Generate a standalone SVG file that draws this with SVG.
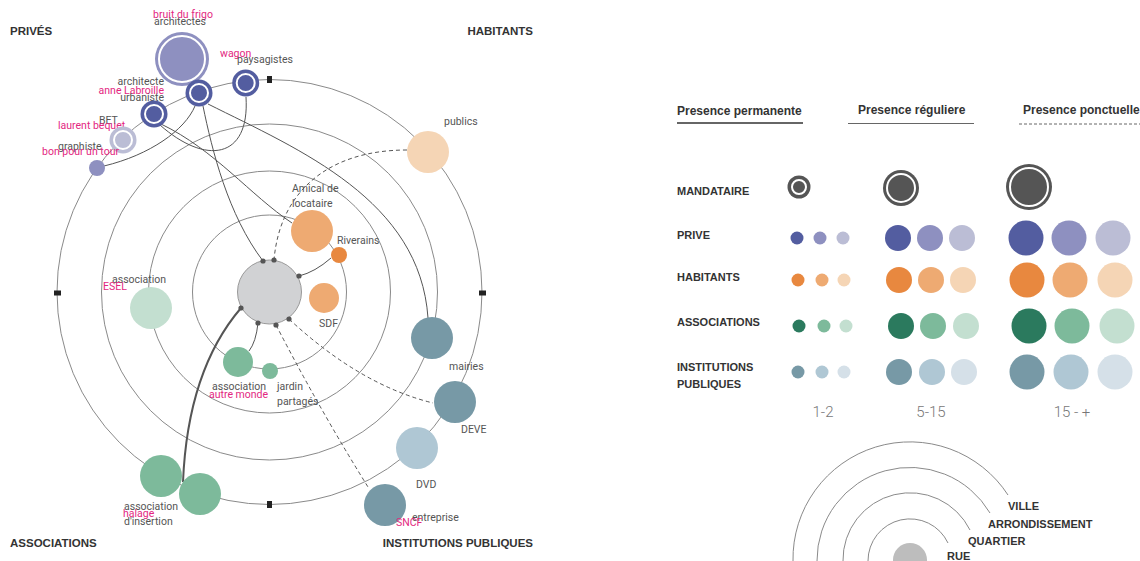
<svg xmlns="http://www.w3.org/2000/svg" width="1140" height="561" viewBox="0 0 1140 561">
<style>
.ring{fill:none;stroke:#8a8a8a;stroke-width:1}
.lbl{font-family:Roboto,"Liberation Sans",sans-serif;font-size:10.5px;fill:#555}
.mag{font-family:Roboto,"Liberation Sans",sans-serif;font-size:10.5px;fill:#e3277f}
.cat{font-family:"Liberation Sans",Arial,sans-serif;font-size:11.5px;font-weight:bold;fill:#333}
.hdr{font-family:"Liberation Sans",Arial,sans-serif;font-size:12px;font-weight:bold;fill:#333}
.row{font-family:"Liberation Sans",Arial,sans-serif;font-size:11px;font-weight:bold;fill:#333}
.num{font-family:Roboto,"Liberation Sans",sans-serif;font-size:15px;font-weight:300;fill:#777}
.con{fill:none;stroke:#555;stroke-width:1}
.dash{fill:none;stroke:#555;stroke-width:1;stroke-dasharray:4 3}
.wring{fill:none;stroke:#fff;stroke-width:2}
.dot{fill:#555}
.mk{fill:#222}
.p1{fill:#535da0}.p2{fill:#8e90c0}.p3{fill:#bbbdd5}
.h1{fill:#e8883f}.h2{fill:#eeaa72}.h3{fill:#f5d5b5}
.a1{fill:#2b7a5e}.a2{fill:#7dba9b}.a3{fill:#c3dfd0}
.i1{fill:#7799a6}.i2{fill:#afc7d4}.i3{fill:#d5e0e8}
.mand{fill:#555}
</style>
<rect width="1140" height="561" fill="#fff"/>

<g id="rings">
<circle class="ring" cx="269.5" cy="292" r="77"/>
<circle class="ring" cx="269.5" cy="292" r="121"/>
<circle class="ring" cx="269.5" cy="292" r="168"/>
<circle class="ring" cx="269.5" cy="292" r="212.5"/>
<rect class="mk" x="267" y="76" width="5" height="7"/>
<rect class="mk" x="267" y="501" width="5" height="7"/>
<rect class="mk" x="54" y="290.5" width="7" height="5"/>
<rect class="mk" x="479" y="290.5" width="7" height="5"/>
</g>

<text class="cat" x="10" y="35">PRIVÉS</text>
<text class="cat" x="533" y="35" text-anchor="end">HABITANTS</text>
<text class="cat" x="10" y="547">ASSOCIATIONS</text>
<text class="cat" x="533" y="547" text-anchor="end">INSTITUTIONS PUBLIQUES</text>

<g id="connectors">
<path class="con" d="M203,106 C212,150 228,215 263,261"/>
<path class="con" d="M161,124 C215,150 250,195 292,223"/>
<path class="con" d="M160,125 C205,165 250,160 246,97"/>
<path class="con" d="M104,166 C150,155 185,130 195,106"/>
<path class="con" d="M208,104 C300,150 420,200 428,318"/>
<path class="con" d="M331,258 Q315,272 299,276"/>
<path class="con" d="M258,323 Q256,342 249,351"/>
<path d="M241,308 C205,350 186,410 183,482" fill="none" stroke="#555" stroke-width="2"/>
<path class="dash" d="M407,150 C330,150 280,190 274,260"/>
<path class="dash" d="M289,319 Q360,385 433,403"/>
<path class="dash" d="M276,325 Q320,410 368,487"/>
</g>

<g id="n-architectes"><circle class="p2" cx="182" cy="59" r="27"/><circle class="wring" cx="182" cy="59" r="23"/>
<text class="mag" x="183" y="18" text-anchor="middle">bruit du frigo</text><text class="lbl" x="180" y="25" text-anchor="middle">architectes</text></g>
<g id="n-paysagistes"><circle class="p1" cx="245.7" cy="83" r="13.5"/><circle class="wring" cx="245.7" cy="83" r="9"/>
<text class="mag" x="220" y="57">wagon</text><text class="lbl" x="237" y="63">paysagistes</text></g>
<g id="n-urbaniste"><circle class="p1" cx="199" cy="93" r="13.5"/><circle class="wring" cx="199" cy="93" r="9"/>
<text class="lbl" x="164" y="85" text-anchor="end">architecte</text><text class="mag" x="164" y="94" text-anchor="end">anne Labroille</text><text class="lbl" x="164" y="101" text-anchor="end">urbaniste</text></g>
<g id="n-bet"><circle class="p1" cx="154" cy="114" r="13.5"/><circle class="wring" cx="154" cy="114" r="9"/>
<text class="lbl" x="99" y="124">BET</text><text class="mag" x="58" y="129">laurent bequet</text></g>
<g id="n-graphiste"><circle class="p3" cx="123" cy="140" r="13.5"/><circle class="wring" cx="123" cy="140" r="9"/></g>
<g id="n-bonpour"><circle class="p2" cx="97" cy="168" r="8"/>
<text class="lbl" x="58" y="150">graphiste</text><text class="mag" x="42" y="155">bon pour un tour</text></g>

<g id="n-publics"><circle class="h3" cx="428" cy="152" r="21"/><text class="lbl" x="444" y="125">publics</text></g>
<g id="n-amical"><circle class="h2" cx="312" cy="231" r="21"/><text class="lbl" x="292" y="192">Amical de</text><text class="lbl" x="292" y="207">locataire</text></g>
<g id="n-riverains"><circle class="h1" cx="339" cy="255" r="8"/><text class="lbl" x="337" y="244">Riverains</text></g>
<g id="n-sdf"><circle class="h2" cx="324" cy="298" r="15"/><text class="lbl" x="319" y="327">SDF</text></g>

<g id="n-center"><circle cx="269.5" cy="292" r="32" fill="#d1d2d4" stroke="#999" stroke-width="1"/>
<circle class="dot" cx="263" cy="261" r="2.6"/><circle class="dot" cx="274" cy="260" r="2.6"/><circle class="dot" cx="299" cy="276" r="2.6"/>
<circle class="dot" cx="241" cy="308" r="2.6"/><circle class="dot" cx="258" cy="323" r="2.6"/><circle class="dot" cx="276" cy="325" r="2.6"/><circle class="dot" cx="289" cy="319" r="2.6"/></g>

<g id="n-esel"><circle class="a3" cx="151" cy="308" r="21"/><text class="lbl" x="112" y="283">association</text><text class="mag" x="103" y="290">ESEL</text></g>
<g id="n-autremonde"><circle class="a2" cx="238" cy="362" r="15"/><text class="lbl" x="212" y="390">association</text><text class="mag" x="209" y="398">autre monde</text></g>
<g id="n-jardin"><circle class="a2" cx="270" cy="371" r="8"/><text class="lbl" x="277" y="390">jardin</text><text class="lbl" x="277" y="405">partagés</text></g>
<g id="n-assoc"><circle class="a2" cx="161" cy="476" r="21"/></g>
<g id="n-halage"><circle class="a2" cx="200" cy="494" r="21"/><text class="lbl" x="124" y="510">association</text><text class="mag" x="123" y="517">halage</text><text class="lbl" x="124" y="525">d'insertion</text></g>

<g id="n-mairies"><circle class="i1" cx="432" cy="338" r="21"/><text class="lbl" x="449" y="370">mairies</text></g>
<g id="n-deve"><circle class="i1" cx="455" cy="402" r="21"/><text class="lbl" x="461" y="433">DEVE</text></g>
<g id="n-dvd"><circle class="i2" cx="417" cy="448" r="21"/><text class="lbl" x="416" y="488">DVD</text></g>
<g id="n-entreprise"><circle class="i1" cx="385" cy="505" r="21"/><text class="lbl" x="412" y="521">entreprise</text><text class="mag" x="396" y="526">SNCF</text></g>

<g id="legend-headers">
<text class="hdr" x="677" y="115">Presence permanente</text>
<line x1="677" y1="123" x2="803" y2="123" stroke="#666" stroke-width="2"/>
<text class="hdr" x="858" y="114">Presence réguliere</text>
<line x1="848" y1="123.5" x2="974" y2="123.5" stroke="#666" stroke-width="1"/>
<text class="hdr" x="1023" y="114">Presence ponctuelle</text>
<line x1="1019" y1="124" x2="1140" y2="124" stroke="#666" stroke-width="1" stroke-dasharray="3 2"/>
</g>
<g id="legend-rows">
<text class="row" x="677" y="195">MANDATAIRE</text>
<text class="row" x="677" y="239">PRIVE</text>
<text class="row" x="677" y="281">HABITANTS</text>
<text class="row" x="677" y="326">ASSOCIATIONS</text>
<text class="row" x="677" y="371">INSTITUTIONS</text>
<text class="row" x="677" y="388">PUBLIQUES</text>
</g>
<g id="legend-mandataire">
<circle class="mand" cx="799" cy="187" r="11.5"/><circle class="wring" cx="799" cy="187" r="7" stroke-width="1.5"/>
<circle class="mand" cx="901" cy="188" r="18"/><circle class="wring" cx="901" cy="188" r="14"/>
<circle class="mand" cx="1029" cy="187" r="23"/><circle class="wring" cx="1029" cy="187" r="19"/>
</g>
<g id="legend-prive">
<circle class="p1" cx="797" cy="238" r="6.5"/><circle class="p2" cx="820" cy="238" r="6.5"/><circle class="p3" cx="843" cy="238" r="6.5"/>
<circle class="p1" cx="898" cy="238" r="13"/><circle class="p2" cx="930" cy="238" r="13"/><circle class="p3" cx="962" cy="238" r="13"/>
<circle class="p1" cx="1026" cy="238" r="17.5"/><circle class="p2" cx="1069" cy="238" r="17.5"/><circle class="p3" cx="1113" cy="238" r="17.5"/>
</g>
<g id="legend-habitants">
<circle class="h1" cx="798" cy="280" r="6.5"/><circle class="h2" cx="822" cy="280" r="6.5"/><circle class="h3" cx="844" cy="280" r="6.5"/>
<circle class="h1" cx="899" cy="280" r="13"/><circle class="h2" cx="931" cy="280" r="13"/><circle class="h3" cx="963" cy="280" r="13"/>
<circle class="h1" cx="1027" cy="280" r="17.5"/><circle class="h2" cx="1070" cy="280" r="17.5"/><circle class="h3" cx="1115" cy="280" r="17.5"/>
</g>
<g id="legend-associations">
<circle class="a1" cx="799" cy="326" r="6.5"/><circle class="a2" cx="824" cy="326" r="6.5"/><circle class="a3" cx="846" cy="326" r="6.5"/>
<circle class="a1" cx="901" cy="326" r="13"/><circle class="a2" cx="933" cy="326" r="13"/><circle class="a3" cx="966" cy="326" r="13"/>
<circle class="a1" cx="1029" cy="326" r="17.5"/><circle class="a2" cx="1072" cy="326" r="17.5"/><circle class="a3" cx="1117" cy="326" r="17.5"/>
</g>
<g id="legend-institutions">
<circle class="i1" cx="798" cy="372" r="6.5"/><circle class="i2" cx="822" cy="372" r="6.5"/><circle class="i3" cx="844" cy="372" r="6.5"/>
<circle class="i1" cx="899" cy="372" r="13"/><circle class="i2" cx="932" cy="372" r="13"/><circle class="i3" cx="964" cy="372" r="13"/>
<circle class="i1" cx="1027" cy="372" r="17.5"/><circle class="i2" cx="1071" cy="372" r="17.5"/><circle class="i3" cx="1115" cy="372" r="17.5"/>
</g>
<g id="legend-counts">
<text class="num" x="823" y="417" text-anchor="middle">1-2</text>
<text class="num" x="931" y="417" text-anchor="middle">5-15</text>
<text class="num" x="1072" y="417" text-anchor="middle">15 - +</text>
</g>
<g id="legend-scale">
<path class="ring" d="M793,561 A117,117 0 0 1 1008,495"/>
<path class="ring" d="M817,561 A93,93 0 0 1 990,513"/>
<path class="ring" d="M843,561 A67,67 0 0 1 970,530"/>
<path class="ring" d="M868,561 A42,42 0 0 1 948,543"/>
<circle cx="910" cy="560" r="17" fill="#bdbdbd"/>
<text class="row" x="1008" y="510">VILLE</text>
<text class="row" x="988" y="528">ARRONDISSEMENT</text>
<text class="row" x="968" y="545">QUARTIER</text>
<text class="row" x="947" y="560">RUE</text>
</g>
</svg>
